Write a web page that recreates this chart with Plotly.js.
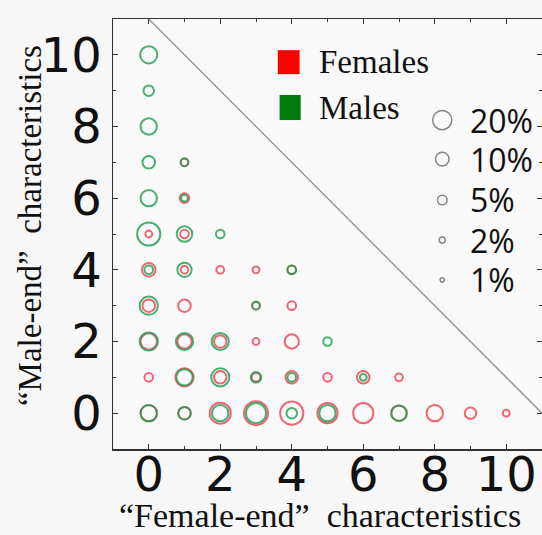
<!DOCTYPE html>
<html><head><meta charset="utf-8">
<script src="https://cdn.plot.ly/plotly-3.0.1.min.js"></script>
<style>html,body{margin:0;padding:0;background:#f7f7f7;}</style>
</head><body>
<div id="chart" style="width:542px;height:535px;"></div>
<script>
// "Female-end" characteristics (x) and "Male-end" characteristics (y)
const xs = [0,0,0,0,1,0,1,0,1,2,0,1,2,3,4,0,1,3,4,0,1,2,3,4,5,0,1,2,3,4,5,6,7,0,1,2,3,4,5,6,7,8,9,10];
const ys = [10,9,8,7,7,6,6,5,5,5,4,4,4,4,4,3,3,3,3,2,2,2,2,2,2,1,1,1,1,1,1,1,1,0,0,0,0,0,0,0,0,0,0,0];
const femalePct = [0,0,0,0,3.2,0,5,2.5,4,0,10,3.2,3.2,2.5,4,8.5,8.5,3.2,4,14.5,11,8.5,2.5,11,0,4,18,8.5,4,8.5,4,8.5,3.2,14.5,8.5,24,31,29,22,22,13,14.5,7,2.5];
const malePct   = [16,6,14.5,8.5,3.2,14.5,2.5,29,13,4,4,11,0,0,4,18,0,3.2,0,18,16,16,0,0,4,0,14.5,18,6,4,0,2.5,0,14.5,8.5,14.5,22,6,14.5,0,13,0,0,0];
const sizeLegendPct = [20,10,5,2,1];
const sizeLegendLabels = ['20%','10%','5%','2%','1%'];
const tickVals = [0,2,4,6,8,10];
const tickText = ['0','2','4','6','8','10'];

const K = 4.3;
function sz(p){ return K*Math.sqrt(p); }
function sub(pcts){
  const x=[],y=[],s=[];
  pcts.forEach((p,i)=>{ if(p>0){ x.push(xs[i]); y.push(ys[i]); s.push(sz(p)); } });
  return {x,y,s};
}
const F = sub(femalePct), M = sub(malePct);
const RED = '#f04a5a', GREEN = '#1c9e4c';

const traces = [
  {type:'scatter', mode:'markers', x:F.x, y:F.y, showlegend:false, hoverinfo:'skip',
   marker:{symbol:'circle-open', size:F.s, color:RED, opacity:0.85, line:{width:2,color:RED}}},
  {type:'scatter', mode:'markers', x:M.x, y:M.y, showlegend:false, hoverinfo:'skip',
   marker:{symbol:'circle-open', size:M.s, color:GREEN, opacity:0.8, line:{width:2,color:GREEN}}},
  {type:'scatter', mode:'markers', x:sizeLegendPct.map(()=>8.21), y:[8.18,7.09,5.95,4.83,3.72],
   showlegend:false, hoverinfo:'skip',
   marker:{symbol:'circle-open', size:sizeLegendPct.map(sz), color:'#555', line:{width:1.5,color:'#555'}}}
];

const annotations = [
  {x:4.70, y:9.8, xref:'x', yref:'y', text:'Females', showarrow:false, xanchor:'left', yanchor:'middle',
   font:{family:'Liberation Serif, Times New Roman, serif', size:33, color:'#111'}},
  {x:4.70, y:8.51, xref:'x', yref:'y', text:'Males', showarrow:false, xanchor:'left', yanchor:'middle',
   font:{family:'Liberation Serif, Times New Roman, serif', size:33, color:'#111'}},
  {x:0.483, y:-0.155, xref:'paper', yref:'paper', text:'\u201cFemale-end\u201d\u00a0\u00a0characteristics', showarrow:false,
   xanchor:'center', yanchor:'middle', font:{family:'Liberation Serif, Times New Roman, serif', size:34, color:'#111'}},
  {x:-0.193, y:0.519, xref:'paper', yref:'paper', text:'\u201cMale-end\u201d\u00a0\u00a0characteristics', showarrow:false,
   textangle:-90, xanchor:'center', yanchor:'middle', font:{family:'Liberation Serif, Times New Roman, serif', size:33, color:'#111'}}
];
const legY = [8.18,7.09,5.95,4.83,3.72];
sizeLegendLabels.forEach((t,i)=>annotations.push({x:8.92, y:legY[i], xref:'x', yref:'y', text:t, showarrow:false,
  xanchor:'left', yanchor:'middle', font:{family:'Open Sans, sans-serif', size:32, color:'#111'}}));

const shapes = [
  {type:'line', xref:'x', yref:'y', x0:0, y0:11, x1:11, y1:0, line:{color:'#999', width:1.5}},
  {type:'rect', xref:'x', yref:'y', x0:3.61, x1:4.22, y0:9.46, y1:10.13, fillcolor:'#ff0000', line:{width:0}},
  {type:'rect', xref:'x', yref:'y', x0:3.66, x1:4.25, y0:8.18, y1:8.88, fillcolor:'#007a0c', line:{width:0}}
];

const axisCommon = {
  tickmode:'array', tickvals:tickVals, ticktext:tickText, ticks:'inside', ticklen:5, tickcolor:'#333',
  showline:true, linecolor:'#333', linewidth:1.5, mirror:'ticks', showgrid:false, zeroline:false,
  minor:{tickvals:[1,3,5,7,9], ticks:'inside', ticklen:3, tickcolor:'#333'},
  tickfont:{family:'DejaVu Sans, sans-serif', size:48, color:'#111'}
};

const layout = {
  width:542, height:535,
  margin:{l:113, r:0, t:19, b:86},
  paper_bgcolor:'#f7f7f7', plot_bgcolor:'#f9f9f9',
  xaxis:Object.assign({}, axisCommon, {range:[-1,11], ticklabelstandoff:-17}),
  yaxis:Object.assign({}, axisCommon, {range:[-1,11]}),
  annotations, shapes, showlegend:false
};
Plotly.newPlot('chart', traces, layout, {displayModeBar:false, staticPlot:true});
</script>
</body></html>
